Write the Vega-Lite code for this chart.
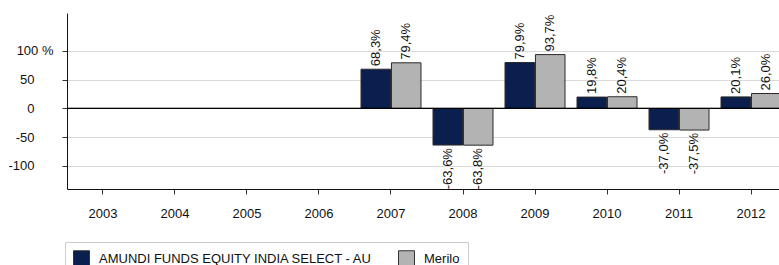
{
  "$schema": "https://vega.github.io/schema/vega-lite/v6.json",
  "width": 712,
  "height": 176,
  "autosize": {"type": "none"},
  "padding": {"left": 67, "top": 13, "right": 0, "bottom": 76},
  "background": "white",
  "config": {
    "font": "Liberation Sans",
    "view": {"stroke": null},
    "locale": {"number": {"decimal": ",", "thousands": ".", "grouping": [3], "currency": ["", " €"], "minus": "-"}}
  },
  "data": {
    "values": [
      {"year": "2007", "series": "AMUNDI FUNDS EQUITY INDIA SELECT - AU", "value": 68.3, "label": "68,3%"},
      {"year": "2007", "series": "Merilo", "value": 79.4, "label": "79,4%"},
      {"year": "2008", "series": "AMUNDI FUNDS EQUITY INDIA SELECT - AU", "value": -63.6, "label": "-63,6%"},
      {"year": "2008", "series": "Merilo", "value": -63.8, "label": "-63,8%"},
      {"year": "2009", "series": "AMUNDI FUNDS EQUITY INDIA SELECT - AU", "value": 79.9, "label": "79,9%"},
      {"year": "2009", "series": "Merilo", "value": 93.7, "label": "93,7%"},
      {"year": "2010", "series": "AMUNDI FUNDS EQUITY INDIA SELECT - AU", "value": 19.8, "label": "19,8%"},
      {"year": "2010", "series": "Merilo", "value": 20.4, "label": "20,4%"},
      {"year": "2011", "series": "AMUNDI FUNDS EQUITY INDIA SELECT - AU", "value": -37.0, "label": "-37,0%"},
      {"year": "2011", "series": "Merilo", "value": -37.5, "label": "-37,5%"},
      {"year": "2012", "series": "AMUNDI FUNDS EQUITY INDIA SELECT - AU", "value": 20.1, "label": "20,1%"},
      {"year": "2012", "series": "Merilo", "value": 26.0, "label": "26,0%"}
    ]
  },
  "layer": [
    {
      "mark": {"type": "bar", "stroke": "#2a2a2a", "strokeWidth": 1},
      "encoding": {
        "x": {
          "field": "year", "type": "nominal",
          "scale": {"domain": ["2003","2004","2005","2006","2007","2008","2009","2010","2011","2012"], "range": [0, 720], "paddingInner": 0.1667, "paddingOuter": 0.0833},
          "axis": {"title": null, "labelAngle": 0, "domainColor": "#111", "tickColor": "#333", "tickSize": 5, "labelPadding": 13, "labelFontSize": 13, "labelColor": "#111", "grid": false}
        },
        "xOffset": {"field": "series", "type": "nominal", "scale": {"paddingInner": 0.03}},
        "y": {
          "field": "value", "type": "quantitative",
          "scale": {"domain": [-140, 166], "nice": false, "zero": false},
          "axis": {
            "title": null,
            "values": [-100, -50, 0, 50, 100],
            "grid": true, "gridColor": "#d9d9d9",
            "domainColor": "#111", "tickColor": "#333", "tickSize": 5,
            "labelPadding": {"condition": {"test": "datum.value == 100", "value": 9}, "value": 28},
            "labelFontSize": 13, "labelColor": "#111",
            "labelExpr": "datum.value == 100 ? '100 %' : datum.label"
          }
        },
        "color": {
          "field": "series", "type": "nominal",
          "scale": {"domain": ["AMUNDI FUNDS EQUITY INDIA SELECT - AU", "Merilo"], "range": ["#0a1f4d", "#b3b3b3"]},
          "legend": {
            "title": null, "orient": "none", "legendX": -2, "legendY": 229, "direction": "horizontal",
            "symbolType": "square", "symbolSize": 256, "symbolStrokeColor": "#333", "symbolStrokeWidth": 1,
            "labelFontSize": 13, "labelColor": "#111", "labelOffset": 9, "columnPadding": 23, "labelLimit": 400,
            "padding": 8, "strokeColor": "#cccccc", "fillColor": "white",
            "labelExpr": "datum.label == 'Merilo' ? 'Merilo\u2003\u2003' : datum.label"
          }
        }
      }
    },
    {
      "mark": {"type": "rule", "color": "#000", "strokeWidth": 1},
      "encoding": {"y": {"datum": 0}}
    },
    {
      "transform": [{"filter": "datum.value >= 0"}],
      "mark": {"type": "text", "angle": 270, "align": "left", "baseline": "middle", "dx": 3, "fontSize": 13, "color": "#111"},
      "encoding": {
        "x": {"field": "year", "type": "nominal"},
        "xOffset": {"field": "series", "type": "nominal"},
        "y": {"field": "value", "type": "quantitative"},
        "text": {"field": "label"}
      }
    },
    {
      "transform": [{"filter": "datum.value < 0"}],
      "mark": {"type": "text", "angle": 270, "align": "right", "baseline": "middle", "dx": -3, "fontSize": 13, "color": "#111"},
      "encoding": {
        "x": {"field": "year", "type": "nominal"},
        "xOffset": {"field": "series", "type": "nominal"},
        "y": {"field": "value", "type": "quantitative"},
        "text": {"field": "label"}
      }
    }
  ]
}
